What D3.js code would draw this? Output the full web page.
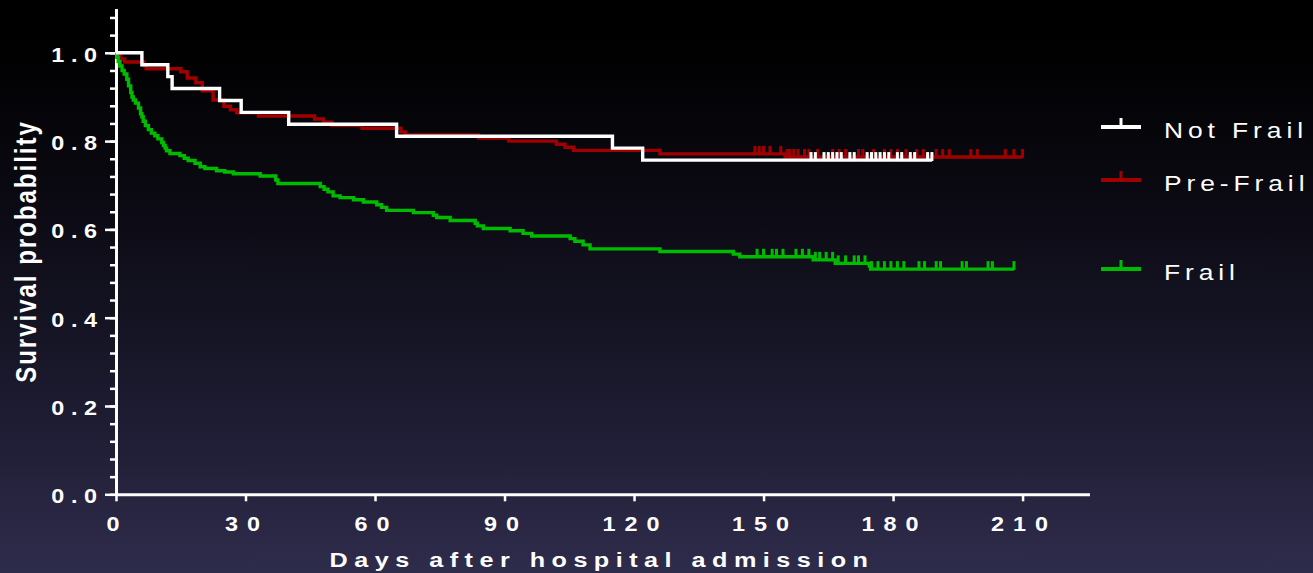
<!DOCTYPE html>
<html>
<head>
<meta charset="utf-8">
<script src="https://cdn.jsdelivr.net/npm/d3@7"></script>
<style>
  html, body { margin: 0; padding: 0; background: #000; }
  svg { display: block; }
  text { font-family: "Liberation Sans", Arial, Helvetica, sans-serif; fill: #ffffff; }
</style>
</head>
<body>
<svg id="chart" width="1313" height="573"></svg>
<script>
// ---- Kaplan–Meier data (days after admission, survival after each drop) ----
const notFrailDays = [6, 12, 13, 24, 29, 40, 65, 115, 122];
const notFrailSurv = [0.973, 0.946, 0.919, 0.892, 0.865, 0.838, 0.811, 0.784, 0.757];
const notFrailLast = 189;
const notFrailCensored = [161, 162, 164, 165, 166, 167, 168, 170, 171, 174, 175, 176, 177, 178, 179, 181, 182, 184, 185, 188, 189];

const preFrailDays = [0.5, 1, 2, 6.5, 7, 15, 16.5, 18.5, 20, 22.5, 25, 26.5, 28, 33, 46, 48, 50, 57, 66, 67, 84, 91, 102, 104, 106, 126, 155];
const preFrailSurv = [0.993, 0.986, 0.979, 0.971, 0.964, 0.957, 0.943, 0.932, 0.914, 0.893, 0.879, 0.871, 0.864, 0.857, 0.850, 0.843, 0.836, 0.829, 0.821, 0.814, 0.807, 0.800, 0.793, 0.786, 0.779, 0.771, 0.764];
const preFrailLast = 210;
const preFrailCensored = [148, 149, 150, 151.5, 154, 155.5, 156, 157, 158, 159.5, 160.5, 162.5, 166, 167.5, 169, 172, 173, 175.5, 178, 179.5, 181, 183, 185.5, 187, 190, 191.5, 193, 198, 199.5, 206, 208, 210];

const frailDays = [0.2, 0.5, 0.9, 1.4, 1.9, 2.5, 2.9, 3.4, 3.7, 4.0, 4.5, 5.2, 5.7, 6.0, 6.3, 6.8, 7.5, 8.2, 9.0, 9.7, 10.6, 11.0, 11.4, 11.7, 12.5, 14.8, 15.8, 16.7, 18.3, 19.5, 20.6, 23.3, 25.2, 27.2, 33.4, 37.0, 37.5, 47.3, 48.2, 49.1, 50.3, 51.9, 55.0, 57.3, 60.4, 61.5, 62.7, 68.9, 73.5, 74.3, 77.4, 83.2, 83.7, 85.1, 91.3, 94.3, 96.3, 105.2, 106.3, 108.2, 109.8, 126.0, 143.0, 144.5, 161.5, 166.6, 174.5, 174.8];
const frailSurv = [0.990, 0.980, 0.970, 0.960, 0.952, 0.940, 0.925, 0.910, 0.900, 0.893, 0.886, 0.875, 0.862, 0.855, 0.845, 0.835, 0.826, 0.818, 0.812, 0.805, 0.797, 0.790, 0.784, 0.778, 0.772, 0.767, 0.761, 0.756, 0.750, 0.742, 0.738, 0.733, 0.730, 0.726, 0.721, 0.712, 0.704, 0.697, 0.691, 0.685, 0.676, 0.672, 0.667, 0.662, 0.656, 0.650, 0.643, 0.638, 0.632, 0.627, 0.620, 0.614, 0.608, 0.602, 0.597, 0.591, 0.585, 0.579, 0.573, 0.565, 0.556, 0.550, 0.544, 0.538, 0.531, 0.523, 0.517, 0.510];
const frailLast = 208;
const frailCensored = [148.5, 150, 152, 153, 154.5, 157.5, 159, 160.5, 162, 163, 164.5, 166, 167.3, 169, 171, 172, 173.5, 175, 176.5, 178, 179.5, 181, 182.5, 186, 187.3, 190, 191, 196, 197, 202, 203, 208];

const groupNames = ["Not Frail", "Pre-Frail", "Frail"];
const groupColors = ["#ffffff", "#a20000", "#00bc00"];

const xTicks = [0, 30, 60, 90, 120, 150, 180, 210];
const yTicks = [0, 0.2, 0.4, 0.6, 0.8, 1.0];
const yMinorTicks = d3.range(0, 1.1, 0.04).map(v => +v.toFixed(2));
const xTitle = "Days after hospital admission";
const yTitle = "Survival probability";

// ---- layout ----
const svg = d3.select("#chart");
const TEXT_SX = 1.2; // horizontal widening of the lettering

const defs = svg.append("defs");
const grad = defs.append("linearGradient").attr("id", "bg")
  .attr("x1", 0).attr("y1", 0).attr("x2", 0).attr("y2", 1);
[[0, "#000000"], [0.1, "#010102"], [0.35, "#0b0a13"], [0.55, "#141322"], [0.75, "#1f1d34"], [1, "#2e2c4b"]]
  .forEach(([o, c]) => grad.append("stop").attr("offset", o).attr("stop-color", c));
svg.append("rect").attr("width", 1313).attr("height", 573).attr("fill", "url(#bg)");

const x = d3.scaleLinear().domain([0, 225.5]).range([116, 116 + 225.5 * 4.317]);
const y = d3.scaleLinear().domain([0, 1.1]).range([494.3, 8.65]);

// ---- axes ----
const axisG = svg.append("g");
axisG.append("g").attr("transform", `translate(${x(0)},0)`)
  .call(d3.axisLeft(y).tickValues(yMinorTicks).tickSize(6).tickSizeOuter(0).tickFormat(""));
axisG.append("g").attr("transform", `translate(${x(0)},0)`)
  .call(d3.axisLeft(y).tickValues(yTicks).tickSize(11).tickSizeOuter(0).tickFormat(""));
axisG.append("g").attr("transform", `translate(0,${y(0)})`)
  .call(d3.axisBottom(x).tickValues(xTicks).tickSize(7).tickSizeOuter(0).tickFormat(""));
axisG.selectAll("path.domain").attr("stroke", "#fff").attr("stroke-width", 3);
axisG.selectAll(".tick line").attr("stroke", "#fff").attr("stroke-width", 2.5);

function label(str, px, py, opts) {
  return svg.append("text")
    .attr("transform", `translate(${px},${py}) scale(${TEXT_SX},1)`)
    .attr("text-anchor", opts.anchor || "start")
    .attr("letter-spacing", opts.ls || 0)
    .style("font-size", opts.size + "px")
    .style("font-weight", opts.weight || "normal")
    .text(str);
}

yTicks.forEach(v => label(v.toFixed(1), 97 + 5.5 * TEXT_SX, y(v) + 9, { anchor: "end", size: 19.5, weight: "bold", ls: 5.5 }));
xTicks.forEach(v => label(String(v), x(v) + 1.5, 530.5, { anchor: "middle", size: 19.5, weight: "bold", ls: 7.5 }));
label(xTitle, 602, 567, { anchor: "middle", size: 21, weight: "bold", ls: 5.4 });
// vertical title: widened along the screen x direction
svg.append("text")
  .attr("transform", `translate(36,251.5) scale(${TEXT_SX},1) rotate(-90)`)
  .attr("text-anchor", "middle")
  .attr("letter-spacing", 2)
  .style("font-size", "24px").style("font-weight", "bold")
  .text(yTitle);

// ---- survival curves ----
const groups = [
  { days: preFrailDays, surv: preFrailSurv, last: preFrailLast, cens: preFrailCensored, color: groupColors[1] },
  { days: frailDays, surv: frailSurv, last: frailLast, cens: frailCensored, color: groupColors[2] },
  { days: notFrailDays, surv: notFrailSurv, last: notFrailLast, cens: notFrailCensored, color: groupColors[0] }
];

const stepLine = d3.line().x(d => x(d[0])).y(d => y(d[1])).curve(d3.curveStepAfter);

function survAt(g, t) {
  let s = 1;
  g.days.forEach((d, i) => { if (d <= t) s = g.surv[i]; });
  return s;
}

const curves = svg.append("g");
groups.forEach(g => {
  const pts = [[0, 1]].concat(g.days.map((d, i) => [d, g.surv[i]]));
  pts.push([g.last, g.surv[g.surv.length - 1]]);
  curves.append("path").datum(pts)
    .attr("d", stepLine)
    .attr("fill", "none")
    .attr("stroke", g.color)
    .attr("stroke-width", 3.4)
    .attr("stroke-linejoin", "miter");
  curves.append("g").selectAll("line").data(g.cens).join("line")
    .attr("x1", t => x(t)).attr("x2", t => x(t))
    .attr("y1", t => y(survAt(g, t)) + 1)
    .attr("y2", t => y(survAt(g, t)) - 8)
    .attr("stroke", g.color)
    .attr("stroke-width", 3);
});

// ---- legend ----
const legendRows = [127, 180, 269];
const legendText = [138, 191, 280];
groupNames.forEach((name, i) => {
  const lg = svg.append("g");
  lg.append("line").attr("x1", 1101).attr("x2", 1141).attr("y1", legendRows[i]).attr("y2", legendRows[i])
    .attr("stroke", groupColors[i]).attr("stroke-width", 4);
  lg.append("line").attr("x1", 1121).attr("x2", 1121).attr("y1", legendRows[i]).attr("y2", legendRows[i] - 9)
    .attr("stroke", groupColors[i]).attr("stroke-width", 3);
  label(name, 1164, legendText[i], { anchor: "start", size: 22, ls: 4.1 });
});
</script>
</body>
</html>
